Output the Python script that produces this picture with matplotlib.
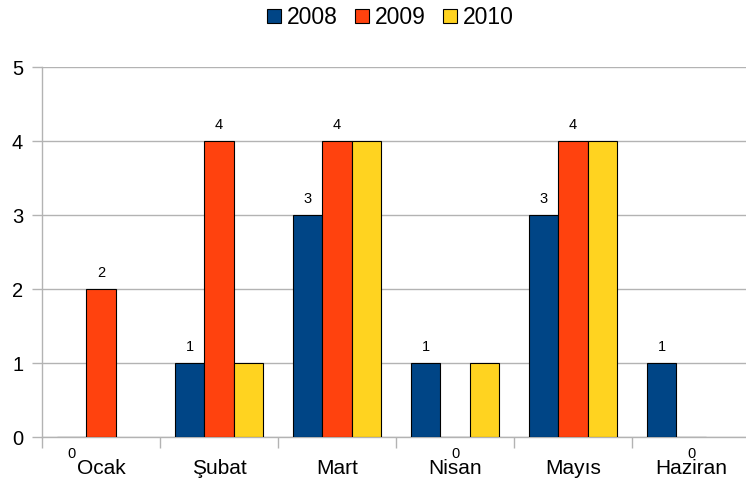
import numpy as np
import matplotlib
matplotlib.use("Agg")
import matplotlib.pyplot as plt
from matplotlib.ticker import FixedLocator

plt.rcParams['font.family'] = ['Liberation Sans', 'DejaVu Sans']

months = ["Ocak", "Şubat", "Mart", "Nisan", "Mayıs", "Haziran"]
series_names = ["2008", "2009", "2010"]
v2008 = [0, 1, 3, 1, 3, 1]
v2009 = [2, 4, 4, 0, 4, 0]
v2010 = [np.nan, 1, 4, 1, 4, np.nan]
labelled = [True, True, False]
colors = ["#004586", "#FF420E", "#FFD320"]

fig = plt.figure(figsize=(7.46, 4.90), dpi=100)
ax = fig.add_axes([42/746, 1-437/490, 708/746, 370/490])

x = np.arange(len(months))
width = 0.25
offsets = [-width, 0, width]
for vals, name, col, off, lab in zip([v2008, v2009, v2010], series_names, colors, offsets, labelled):
    bars = ax.bar(x + off, vals, width, color=col, edgecolor="black", linewidth=0.8,
                  label=name, zorder=3)
    if lab:
        for xi, v in zip(x + off, vals):
            if np.isnan(v):
                continue
            dy = 11.5 if v > 0 else -12
            ax.annotate(f"{int(v)}", (xi, v), xytext=(0, dy), textcoords="offset points",
                        ha="center", va="center", fontsize=10.5, color="black",
                        annotation_clip=False)

ax.set_xlim(-0.5, len(months) - 0.5)
ax.set_ylim(0, 5)
ax.set_yticks(range(0, 6))
ax.yaxis.grid(True, color="#b3b3b3", linewidth=1.0, zorder=0)
ax.set_axisbelow(True)

ax.set_xticks(x)
ax.set_xticklabels(months)
ax.xaxis.set_minor_locator(FixedLocator(np.arange(-0.5, len(months), 1.0)))
ax.tick_params(axis="x", which="major", length=0, pad=16, labelsize=15)
ax.tick_params(axis="x", which="minor", length=8, width=1.0, color="#b3b3b3")
ax.tick_params(axis="y", length=7.5, width=1.0, color="#b3b3b3", pad=6, labelsize=14.5)

for s in ["top", "right"]:
    ax.spines[s].set_visible(False)
for s in ["left", "bottom"]:
    ax.spines[s].set_color("#b3b3b3")
    ax.spines[s].set_linewidth(1.0)

leg = fig.legend(loc="center", bbox_to_anchor=(390/746, 1-17.5/490), ncol=3, frameon=False,
                 fontsize=16.5, handlelength=0.62, handleheight=0.62, handletextpad=0.25,
                 columnspacing=0.75, borderaxespad=0)

fig.savefig("out.png", dpi=100)
